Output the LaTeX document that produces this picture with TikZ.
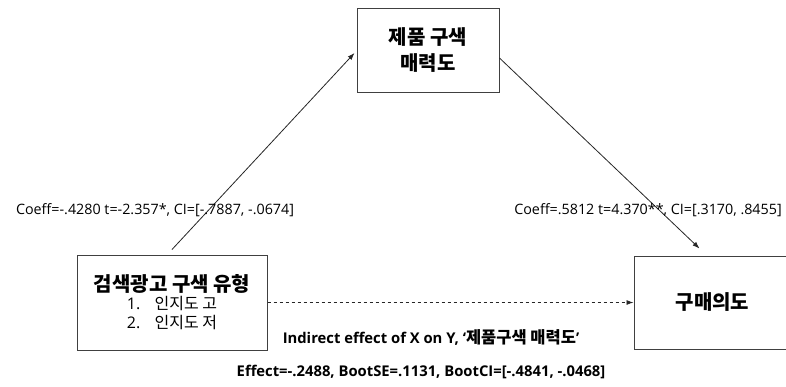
\documentclass[tikz,border=0pt]{standalone}
\usepackage{fontspec}
\setmainfont{Noto Sans CJK KR}
\newfontfamily\lat{Open Sans}
\usetikzlibrary{arrows.meta,calc}
\tikzset{
  varbox/.style={draw=black!75, line width=1pt, fill=white, align=center, inner sep=0pt},
  conn/.style={draw=black!85, line width=0.8pt, -{Latex[length=7pt,width=5pt]}},
  coef/.style={font=\lat\fontsize{14.3}{16}\selectfont, inner sep=0pt},
  coefb/.style={font=\lat\bfseries\fontsize{14.8}{16}\selectfont, inner sep=0pt},
}
\begin{document}
\begin{tikzpicture}[x=1pt,y=-1pt]
\useasboundingbox (0,0) rectangle (786,386);
\fill[white] (0,0) rectangle (786,386);
\node[varbox, minimum width=142pt, minimum height=84pt, font=\bfseries\fontsize{20}{26}\selectfont] (M) at (428,50)
  {제품 구색\\매력도};
\node[varbox, minimum width=190pt, minimum height=95pt] (X) at (172,302.5) {};
\node[font=\bfseries\fontsize{20}{24}\selectfont, inner sep=0pt] (Xt) at (172,284) {검색광고 구색 유형};
\node[font=\fontsize{16}{19}\selectfont, align=left, inner sep=0pt] (Xl) at (172,313)
  {{\lat 1.}\hspace{0.9em}인지도 고\\{\lat 2.}\hspace{0.9em}인지도 저};
\node[varbox, minimum width=157pt, minimum height=93pt, font=\bfseries\fontsize{20}{24}\selectfont] (Y) at (712.5,302.5)
  {구매의도};
\draw[conn] ([yshift=5pt]X.north) -- ([xshift=-2pt,yshift=-3pt]M.west);
\draw[conn] ([yshift=-8pt]M.east) -- ([xshift=-13pt,yshift=7pt]Y.north);
\draw[conn, dashed] (X.east) -- (Y.west);
\node[coef] (a) at (155,210) {Coeff=-.4280 t=-2.357*, CI=[-.7887, -.0674]};
\node[coef] (b) at (648,210) {Coeff=.5812 t=4.370**, CI=[.3170, .8455]};
\node[coefb] (ind) at (431,337) {Indirect effect of X on Y, ‘{\rmfamily\fontsize{16.5}{16}\selectfont\bfseries 제품구색 매력도}’};
\node[coefb] (eff) at (421,372) {Effect=-.2488, BootSE=.1131, BootCI=[-.4841, -.0468]};
\end{tikzpicture}
\end{document}
